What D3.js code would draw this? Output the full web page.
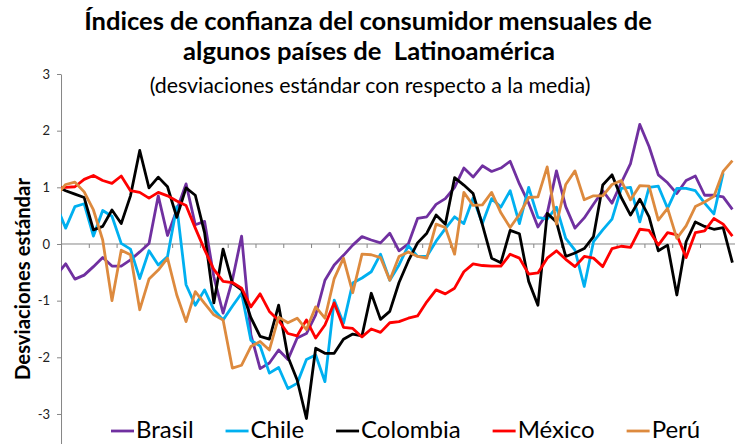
<!DOCTYPE html>
<html>
<head>
<meta charset="utf-8">
<script src="https://cdn.jsdelivr.net/npm/d3@7"></script>
<style>
html, body { margin: 0; padding: 0; background: #fff; }
svg { display: block; font-family: Lato, "Open Sans", sans-serif; }
</style>
</head>
<body>
<div id="chart"></div>
<script>
// monthly consumer confidence, std. deviations from the mean
var paises  = ["Brasil", "Chile", "Colombia", "México", "Perú"];
var colores = ["#7030A0", "#00B0F0", "#000000", "#FF0000", "#DD8A3E"];

var brasil = [-0.55,-0.35,-0.62,-0.55,-0.40,-0.24,-0.39,-0.39,-0.28,-0.14,
	0.01,0.85,0.15,0.60,1.06,0.34,0.40,-0.58,-1.22,-0.64,
	0.14,-1.60,-2.20,-2.10,-1.87,-2.04,-1.66,-1.58,-1.25,-0.64,
	-0.37,-0.20,-0.02,0.13,0.07,0.02,0.19,-0.12,0.00,0.45,
	0.48,0.70,0.80,1.00,1.34,1.18,1.38,1.28,1.34,1.46,
	1.06,0.72,0.30,0.54,1.29,0.66,0.28,0.46,0.70,0.94,
	0.72,1.08,1.42,2.11,1.72,1.22,1.08,0.89,1.12,1.20,
	0.86,0.86,0.83,0.61];

var chile = [0.68,0.28,0.66,0.71,0.14,0.59,0.49,0.01,-0.09,-0.61,
	-0.12,-0.37,-0.22,0.66,-0.72,-1.08,-0.81,-1.16,-1.34,-1.10,
	-0.87,-1.70,-1.80,-2.28,-2.18,-2.55,-2.46,-2.04,-1.96,-2.43,
	-0.99,-1.40,-0.69,-0.60,-0.49,-0.18,-0.64,-0.37,-0.03,-0.22,
	-0.22,0.05,0.27,0.48,0.36,0.81,0.36,0.80,0.65,0.94,
	0.36,1.00,0.47,0.44,0.65,0.10,-0.11,-0.75,0.04,0.25,
	0.44,0.98,1.00,0.39,1.00,1.02,0.63,0.98,0.98,0.94,
	0.72,0.53,1.25,null];

var colombia = [1.02,0.94,0.88,0.82,0.25,0.31,0.60,0.36,0.85,1.65,
	0.99,1.18,1.01,0.47,0.99,0.86,0.20,-1.04,-0.09,-0.69,
	-0.81,-1.30,-1.63,-1.68,-1.08,-1.99,-2.40,-3.08,-1.84,-1.93,
	-1.93,-1.68,-1.59,-1.62,-0.87,-1.33,-1.19,-0.68,-0.30,0.02,
	0.19,0.51,0.35,1.17,1.04,0.89,0.34,-0.25,-0.33,0.24,
	0.18,-0.66,-1.08,0.54,0.39,-0.22,-0.16,-0.08,0.13,1.04,
	1.22,0.82,0.51,0.79,0.48,-0.12,-0.02,-0.90,0.04,0.39,
	0.31,0.26,0.29,-0.33];

var mexico = [0.98,1.00,1.01,1.14,1.21,1.12,1.07,1.20,0.94,0.91,
	0.81,0.91,0.85,0.76,0.68,0.28,-0.10,-0.45,-0.66,-0.68,
	-0.78,-1.11,-0.88,-1.19,-1.35,-1.58,-1.62,-1.34,-1.66,-1.43,
	-1.04,-1.47,-1.49,-1.64,-1.50,-1.56,-1.39,-1.37,-1.31,-1.27,
	-1.02,-0.81,-0.88,-0.78,-0.49,-0.35,-0.38,-0.39,-0.39,-0.18,
	-0.25,-0.53,-0.51,-0.25,-0.12,-0.27,-0.40,-0.22,-0.25,-0.40,
	-0.08,-0.04,-0.06,0.26,0.24,-0.02,0.20,0.16,-0.24,0.20,
	0.23,0.45,0.35,0.14];

var peru = [0.86,1.05,1.09,0.92,0.60,0.07,-1.00,-0.11,-0.19,-1.16,
	-0.62,-0.46,-0.25,-0.90,-1.37,-0.84,-1.05,-1.25,-1.34,-2.19,
	-2.14,-1.81,-1.72,-1.87,-1.29,-1.39,-1.31,-1.51,-1.11,-1.31,
	-0.61,-0.25,-0.86,-0.18,-0.19,-0.24,-0.64,-0.22,-0.14,-0.22,
	-0.25,0.35,0.29,-0.18,0.91,0.68,0.69,0.91,0.55,0.29,
	0.52,0.82,0.83,1.36,0.35,1.05,1.29,0.78,0.85,0.85,
	1.05,1.12,0.78,1.03,1.02,0.42,0.63,0.10,0.32,0.66,
	0.74,0.84,1.28,1.47];

var yTicks = [-3, -2, -1, 0, 1, 2, 3];
var titulo = ["Índices de confianza del consumidor mensuales de", "algunos países de  Latinoamérica"];
var subtitulo = "(desviaciones estándar con respecto a la media)";
var ejeY = "Desviaciones estándar";

window.onload = function(){
	var w = 735, h = 444;
	var series = [brasil, chile, colombia, mexico, peru];

	var svg = d3.select("#chart")
		.append("svg")
		.attr("width", w)
		.attr("height", h);

	var n = brasil.length;
	// first month sits just left of the plot edge and gets clipped
	var x = d3.scaleLinear().domain([0, n - 1]).range([56.4, 732.4]);
	var y = d3.scaleLinear().domain([-3.53, 3]).range([444, 74]);
	var left = x(0.5);

	// scale font so that text fills a given width
	function fit(sel, width){
		var len = sel.node().getComputedTextLength();
		var fs = parseFloat(sel.attr("font-size"));
		sel.attr("font-size", fs * width / len);
	}

	fit(svg.append("text")
		.attr("x", 368).attr("y", 30)
		.attr("text-anchor", "middle")
		.attr("font-weight", "bold")
		.attr("font-size", 23)
		.text(titulo[0]), 568);

	fit(svg.append("text")
		.attr("x", 369).attr("y", 60)
		.attr("text-anchor", "middle")
		.attr("font-weight", "bold")
		.attr("font-size", 23)
		.style("white-space", "pre")
		.text(titulo[1]), 372);

	fit(svg.append("text")
		.attr("x", 370).attr("y", 93)
		.attr("text-anchor", "middle")
		.attr("font-size", 19)
		.text(subtitulo), 441);

	fit(svg.append("text")
		.attr("transform", "translate(30,279) rotate(-90)")
		.attr("text-anchor", "middle")
		.attr("font-weight", "bold")
		.attr("font-size", 20)
		.text(ejeY), 202);

	// y axis
	var gy = svg.append("g")
		.attr("transform", "translate(" + left + ",0)")
		.call(d3.axisLeft(y)
			.tickValues(yTicks)
			.tickSizeInner(4)
			.tickSizeOuter(0)
			.tickPadding(7)
			.tickFormat(function(d){ return String(d); }));
	gy.select(".domain").attr("stroke", "#868686");
	gy.selectAll(".tick line").attr("stroke", "#868686");
	gy.selectAll(".tick text")
		.attr("font-family", "Lato, 'Open Sans', sans-serif")
		.attr("font-size", 13)
		.attr("fill", "#222");

	// x axis at zero, ticks every three months
	var gx = svg.append("g")
		.attr("transform", "translate(0," + y(0) + ")")
		.call(d3.axisBottom(x)
			.tickValues(d3.range(0.5, n, 3))
			.tickSizeInner(4)
			.tickSizeOuter(0)
			.tickFormat(""));
	gx.select(".domain").remove();
	gx.selectAll(".tick line").attr("stroke", "#868686");
	gx.append("line")
		.attr("x1", left).attr("x2", w)
		.attr("stroke", "#868686");

	svg.append("clipPath")
		.attr("id", "plot-clip")
		.append("rect")
		.attr("x", left).attr("y", 0)
		.attr("width", w - left).attr("height", h);

	var line = d3.line()
		.defined(function(d){ return d != null; })
		.x(function(d, i){ return x(i); })
		.y(function(d){ return y(d); });

	svg.append("g")
		.attr("clip-path", "url(#plot-clip)")
		.selectAll("path")
		.data(series)
		.enter()
		.append("path")
			.attr("d", line)
			.attr("fill", "none")
			.attr("stroke", function(d, i){ return colores[i]; })
			.attr("stroke-width", 2.8)
			.attr("stroke-linejoin", "round");

	// legend
	var lx = 111;
	paises.forEach(function(p, i){
		svg.append("line")
			.attr("x1", lx).attr("x2", lx + 23)
			.attr("y1", 431).attr("y2", 431)
			.attr("stroke", colores[i])
			.attr("stroke-width", 2.8);
		var t = svg.append("text")
			.attr("x", lx + 25).attr("y", 438)
			.attr("font-size", 24)
			.attr("fill", "#000")
			.text(p);
		lx += 25 + t.node().getComputedTextLength() + 32;
	});
}
</script>
</body>
</html>
